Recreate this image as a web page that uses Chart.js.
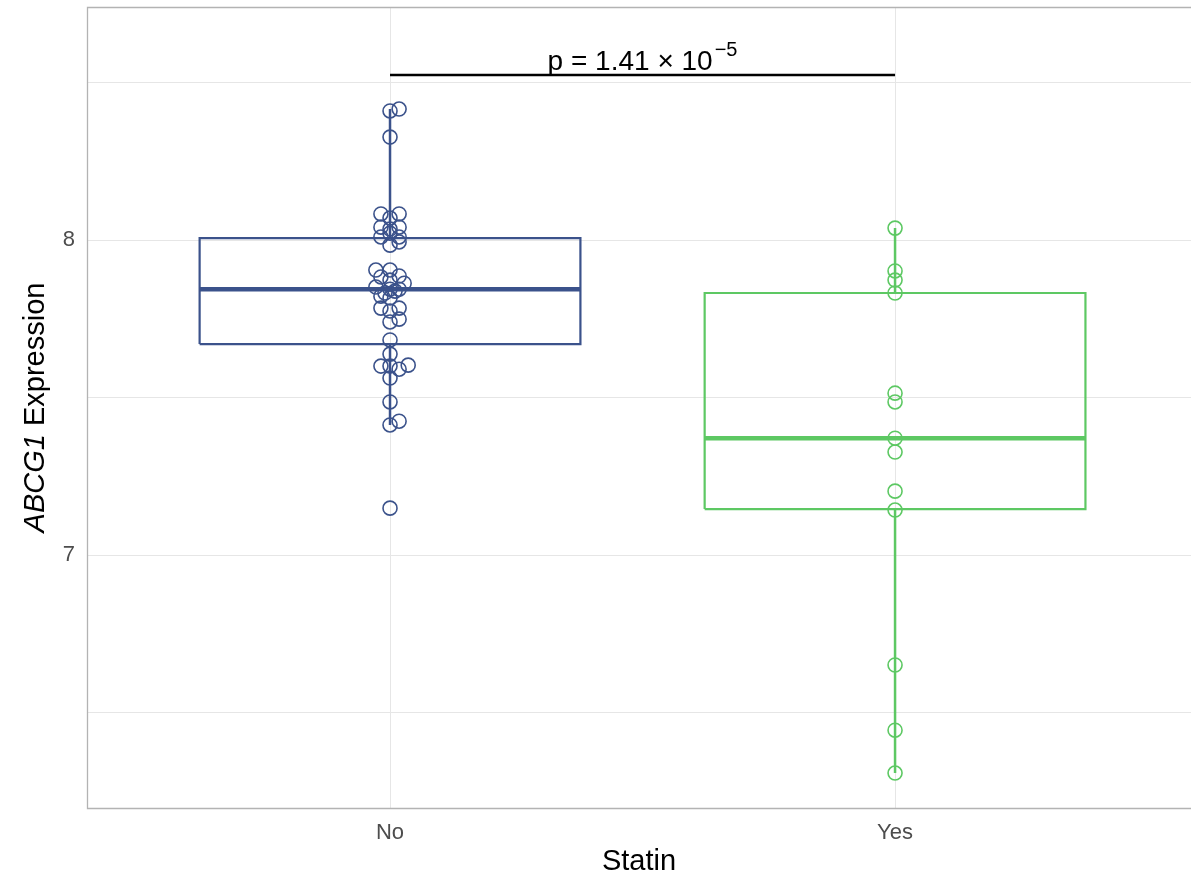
<!DOCTYPE html>
<html>
<head>
<meta charset="utf-8">
<script src="https://cdn.jsdelivr.net/npm/chart.js@4.4.1/dist/chart.umd.min.js"></script>
<style>
html,body{margin:0;padding:0;background:#fff;overflow:hidden;}
#wrap{width:1191px;height:883px;}
</style>
</head>
<body>
<div id="wrap"><canvas id="c" width="1191" height="883"></canvas></div>
<script>
// ---- data ----
const categories = ['No', 'Yes'];
const yTickValues = [6.5, 7, 7.5, 8, 8.5];
const yTickLabels = ['', '7', '', '8', ''];
// box statistics [whiskerLow, Q1, median, Q3, whiskerHigh]
const boxNo  = [7.413, 7.670, 7.844, 8.006, 8.416];
const boxYes = [6.308, 7.146, 7.371, 7.832, 8.038];
// observations
const pointsNo = [8.410, 8.416, 8.327,
  8.083, 8.083, 8.070, 8.041, 8.041, 8.035, 8.022, 8.010, 8.010, 7.984, 7.994,
  7.905, 7.905, 7.886, 7.883, 7.873, 7.851, 7.863, 7.844, 7.844, 7.832, 7.838, 7.816, 7.822,
  7.784, 7.775, 7.784, 7.749, 7.740, 7.683, 7.638, 7.600, 7.600, 7.590, 7.603, 7.562,
  7.486, 7.413, 7.425, 7.149];
const jitterNo = [0, 0.018, 0,
  -0.018, 0.018, 0, -0.018, 0.018, 0, 0, -0.018, 0.018, 0, 0.018,
  -0.028, 0, 0.018, -0.018, 0, -0.028, 0.028, 0.018, 0, -0.01, 0.01, 0, -0.018,
  -0.018, 0, 0.018, 0.018, 0, 0, 0, -0.018, 0, 0.018, 0.036, 0,
  0, 0, 0.018, 0];
const pointsYes = [8.038, 7.902, 7.873, 7.832, 7.514, 7.486, 7.371, 7.327, 7.203, 7.143, 6.651, 6.444, 6.308];
const pValueY = 8.524;
const pValueText = 'p = 1.41 \u00d7 10';
const pValueExp = '\u22125';

// ---- styles ----
const colNo = '#3B528B', colYes = '#5DC863';
const halfBox = 0.377;
const FONT = '"Liberation Sans", Arial, sans-serif';

function boxOutline(cx, b){ return [
  {x:cx-halfBox,y:b[1]},{x:cx+halfBox,y:b[1]},{x:cx+halfBox,y:b[3]},{x:cx-halfBox,y:b[3]},{x:cx-halfBox,y:b[1]}]; }
function median(cx, b){ return [{x:cx-halfBox,y:b[2]},{x:cx+halfBox,y:b[2]}]; }
function whiskers(cx, b){ return [{x:cx,y:b[0]},{x:cx,y:b[1]},{x:NaN,y:NaN},{x:cx,y:b[3]},{x:cx,y:b[4]}]; }

function lineDs(data, color, width, order){
  return {type:'line', data, borderColor:color, borderWidth:width, pointRadius:0, fill:false,
    spanGaps:false, tension:0, order, borderCapStyle:'butt', borderJoinStyle:'miter'};
}
function pointDs(vals, cx, jit, color){
  return {type:'scatter', data: vals.map((v,i)=>({x:cx+(jit?jit[i]:0), y:v})),
    borderColor:color, backgroundColor:'rgba(0,0,0,0)', pointRadius:7, pointHoverRadius:7,
    pointBorderWidth:1.6, order:0};
}

const datasets = [
  pointDs(pointsNo, 1, jitterNo, colNo),
  pointDs(pointsYes, 2, null, colYes),
  lineDs(median(1, boxNo), colNo, 4.5, 1),
  lineDs(median(2, boxYes), colYes, 4.5, 1),
  lineDs(boxOutline(1, boxNo), colNo, 2.2, 2),
  lineDs(boxOutline(2, boxYes), colYes, 2.2, 2),
  lineDs(whiskers(1, boxNo), colNo, 2.5, 3),
  lineDs(whiskers(2, boxYes), colYes, 2.5, 3),
  lineDs([{x:1,y:pValueY},{x:2,y:pValueY}], '#000000', 2.5, 1),
];

const decor = {
  id:'decor',
  beforeDatasetsDraw(chart){
    const a = chart.chartArea, ctx = chart.ctx;
    ctx.save();
    ctx.strokeStyle = '#B3B3B3'; ctx.lineWidth = 1.3;
    ctx.beginPath();
    ctx.moveTo(a.right + 2, a.top + 0.5);
    ctx.lineTo(a.left + 0.5, a.top + 0.5);
    ctx.lineTo(a.left + 0.5, a.bottom + 0.5);
    ctx.lineTo(a.right + 2, a.bottom + 0.5);
    ctx.stroke();
    ctx.restore();
  },
  afterDraw(chart){
    const a = chart.chartArea, ctx = chart.ctx, xs = chart.scales.x, ys = chart.scales.y;
    ctx.save();
    // x title
    ctx.fillStyle = '#000'; ctx.font = '29px ' + FONT;
    ctx.textAlign = 'center'; ctx.textBaseline = 'middle';
    ctx.fillText('Statin', (a.left + a.right)/2, 862);
    // y title with italic gene name
    ctx.translate(36, (a.top + a.bottom)/2);
    ctx.rotate(-Math.PI/2);
    const f1 = 'italic 29px ' + FONT, f2 = '29px ' + FONT;
    ctx.font = f1; const w1 = ctx.measureText('ABCG1').width;
    ctx.font = f2; const w2 = ctx.measureText(' Expression').width;
    let x0 = -(w1+w2)/2;
    ctx.textAlign = 'left';
    ctx.font = f1; ctx.fillText('ABCG1', x0, 0);
    ctx.font = f2; ctx.fillText(' Expression', x0 + w1, 0);
    ctx.restore();
    // p-value label
    ctx.save();
    const cx = (xs.getPixelForValue(1) + xs.getPixelForValue(2))/2;
    const by = ys.getPixelForValue(pValueY) - 5;
    const fm = '28px ' + FONT, fs = '20px ' + FONT;
    ctx.font = fm; const wm = ctx.measureText(pValueText).width;
    ctx.font = fs; const ws = ctx.measureText(pValueExp).width;
    const sx = cx - (wm + ws + 2)/2;
    ctx.fillStyle = '#000'; ctx.textAlign = 'left'; ctx.textBaseline = 'alphabetic';
    ctx.font = fm; ctx.fillText(pValueText, sx, by);
    ctx.font = fs; ctx.fillText(pValueExp, sx + wm + 2, by - 14);
    ctx.restore();
  }
};

new Chart(document.getElementById('c'), {
  data:{datasets},
  options:{
    responsive:false, animation:false,
    layout:{autoPadding:false, padding:{top:7, right:0, left:0, bottom:0}},
    plugins:{legend:{display:false}, tooltip:{enabled:false}},
    scales:{
      x:{type:'linear', min:0.4, max:2.586,
        afterBuildTicks(s){ s.ticks = [{value:1},{value:2}]; },
        afterFit(s){ s.height = 75; s.paddingLeft = 0; s.paddingRight = 0; },
        grid:{color:'#E6E6E6', lineWidth:1, drawTicks:false},
        border:{display:false},
        ticks:{padding:12, color:'#4D4D4D', font:{family:FONT, size:22},
          callback:(v)=>categories[Math.round(v)-1] || ''}
      },
      y:{type:'linear', min:6.197, max:8.74,
        afterBuildTicks(s){ s.ticks = yTickValues.map(v=>({value:v})); },
        afterFit(s){ s.width = 87; s.paddingTop = 0; s.paddingBottom = 0; },
        grid:{color:'#E6E6E6', lineWidth:1, drawTicks:false},
        border:{display:false},
        ticks:{padding:12, color:'#4D4D4D', font:{family:FONT, size:22},
          callback:(v)=>{ const i = yTickValues.findIndex(t=>Math.abs(t-v)<1e-6); return i>=0 ? yTickLabels[i] : ''; }}
      }
    }
  },
  plugins:[decor]
});
</script>
</body>
</html>
